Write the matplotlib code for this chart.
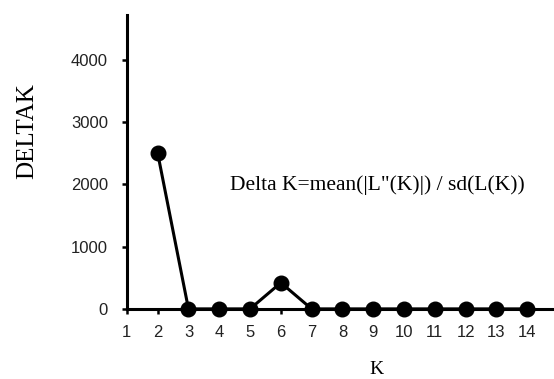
import matplotlib
matplotlib.use("Agg")
import matplotlib.pyplot as plt

K = [2, 3, 4, 5, 6, 7, 8, 9, 10, 11, 12, 13, 14]
deltaK = [2500, 0, 0, 0, 420, 0, 0, 0, 0, 0, 0, 0, 0]
xticks = list(range(1, 15))
yticks = [0, 1000, 2000, 3000, 4000]

fig = plt.figure(figsize=(5.54, 3.79), dpi=100)
ax = fig.add_axes([0.229, 0.185, 0.771, 0.776])

ax.plot(K, deltaK, color="black", lw=2.2, marker="o", markersize=10.5,
        clip_on=False, zorder=3)

ax.set_xlim(1, 14.87)
ax.set_ylim(0, 4720)
ax.set_xticks(xticks)
ax.set_yticks(yticks)

for s in ["top", "right"]:
    ax.spines[s].set_visible(False)
for s in ["left", "bottom"]:
    ax.spines[s].set_linewidth(2.2)

ax.tick_params(axis="both", direction="out", length=3.5, width=1.8,
               labelsize=12, labelcolor="#222222")
ax.tick_params(axis="y", pad=10)
ax.tick_params(axis="x", pad=8)
for lab in ax.get_xticklabels() + ax.get_yticklabels():
    lab.set_family("Liberation Sans")

ax.set_ylabel("DELTAK", family="Liberation Serif", fontsize=18)
ax.yaxis.set_label_coords(-0.234, 0.605)
ax.set_xlabel("K", family="Liberation Serif", fontsize=14)
ax.xaxis.set_label_coords(0.585, -0.205)
ax.xaxis.label.set_va("center")
ax.yaxis.label.set_va("center")

ax.text(4.34, 1990, "Delta K=mean(|L\"(K)|) / sd(L(K))",
        family="Liberation Serif", fontsize=15.5, va="center", ha="left")

fig.savefig("out.png", dpi=100)
